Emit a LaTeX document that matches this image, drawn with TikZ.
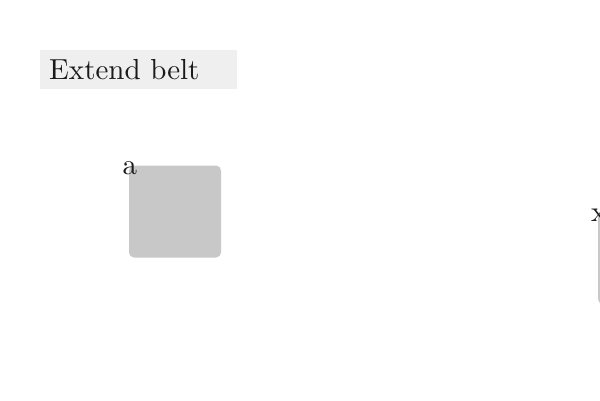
\documentclass[tikz,border=0pt]{standalone}
\usepackage{fontspec}
\setmainfont{lmroman10-regular.otf}
\usetikzlibrary{positioning}
\definecolor{titlefill}{HTML}{EFEFEF}
\definecolor{boxfill}{HTML}{C8C8C8}
\definecolor{inkcol}{HTML}{1A1A1A}
\tikzset{
  title/.style={rectangle, fill=titlefill, text=inkcol, anchor=west, inner xsep=9pt,
    minimum height=39pt, text width=179pt, align=left, font=\fontsize{29}{35}\selectfont},
  belt/.style={rectangle, rounded corners=5pt, fill=boxfill, minimum size=92pt, inner sep=0pt},
  tag/.style={anchor=center, xshift=1pt, yshift=-3pt, text=inkcol, inner sep=0pt, font=\fontsize{29}{35}\selectfont}
}
\begin{document}
\begin{tikzpicture}[x=1pt, y=-1pt]
  \useasboundingbox (0,0) rectangle (600,400);
  \clip (0,0) rectangle (600,400);
  \node[title] (T) at (40,69.5) {Extend belt};
  \node[belt, label={[tag]north west:a}] (a) at (175,211.5) {};
  \node[belt, label={[tag]north west:x}] (x) at (644,258) {};
\end{tikzpicture}
\end{document}
